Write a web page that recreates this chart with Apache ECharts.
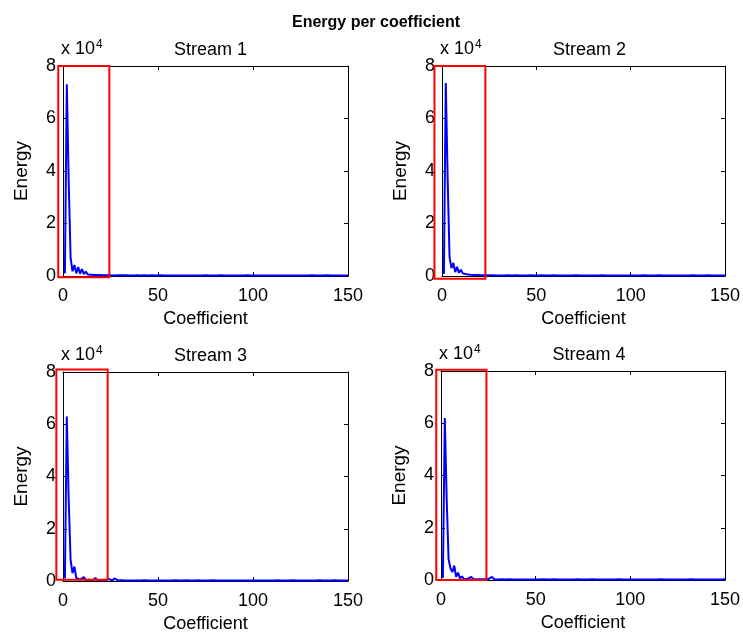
<!DOCTYPE html>
<html>
<head>
<meta charset="utf-8">
<script src="https://cdn.jsdelivr.net/npm/echarts@6/dist/echarts.min.js"></script>
<style>
  html, body { margin: 0; padding: 0; background: #fff; }
  #main { width: 743px; height: 637px; }
</style>
</head>
<body>
<div id="main"></div>
<script>
// energy per coefficient (units of 1e4), coefficient index 1..150
var stream1 = [
  0.10, 7.30, 3.60, 0.70, 0.18, 0.42, 0.10, 0.34, 0.09, 0.26,
  0.07, 0.17, 0.06, 0.11, 0.05, 0.08, 0.04, 0.06, 0.04, 0.05,
  0.03, 0.04, 0.03, 0.04, 0.03, 0.03, 0.02, 0.03, 0.03, 0.02,
  0.03, 0.02, 0.03, 0.02, 0.02, 0.03, 0.02, 0.02, 0.03, 0.02,
  0.02, 0.02, 0.03, 0.02, 0.02, 0.02, 0.03, 0.02, 0.02, 0.02,
  0.03, 0.02, 0.02, 0.02, 0.02, 0.03, 0.02, 0.02, 0.02, 0.02,
  0.02, 0.03, 0.02, 0.02, 0.02, 0.02, 0.02, 0.03, 0.02, 0.02,
  0.02, 0.02, 0.02, 0.02, 0.03, 0.02, 0.02, 0.02, 0.02, 0.02,
  0.02, 0.02, 0.03, 0.02, 0.02, 0.02, 0.02, 0.02, 0.02, 0.03,
  0.02, 0.02, 0.02, 0.02, 0.02, 0.02, 0.03, 0.02, 0.02, 0.02,
  0.02, 0.02, 0.02, 0.02, 0.02, 0.03, 0.02, 0.02, 0.02, 0.02,
  0.02, 0.02, 0.02, 0.03, 0.02, 0.02, 0.02, 0.02, 0.02, 0.02,
  0.02, 0.03, 0.02, 0.02, 0.02, 0.02, 0.02, 0.02, 0.02, 0.02,
  0.03, 0.02, 0.02, 0.02, 0.02, 0.02, 0.02, 0.02, 0.03, 0.02,
  0.02, 0.02, 0.02, 0.02, 0.02, 0.02, 0.02, 0.03, 0.02, 0.02
];
var stream2 = [
  0.08, 7.35, 3.70, 0.72, 0.30, 0.50, 0.15, 0.35, 0.12, 0.24,
  0.10, 0.16, 0.07, 0.10, 0.05, 0.07, 0.04, 0.05, 0.04, 0.04,
  0.03, 0.04, 0.03, 0.03, 0.03, 0.02, 0.03, 0.03, 0.02, 0.03,
  0.02, 0.03, 0.02, 0.02, 0.03, 0.02, 0.02, 0.02, 0.03, 0.02,
  0.02, 0.03, 0.02, 0.02, 0.02, 0.02, 0.03, 0.02, 0.02, 0.02,
  0.02, 0.02, 0.03, 0.02, 0.02, 0.02, 0.02, 0.02, 0.03, 0.02,
  0.02, 0.02, 0.02, 0.03, 0.02, 0.02, 0.02, 0.02, 0.02, 0.02,
  0.03, 0.02, 0.02, 0.02, 0.02, 0.02, 0.02, 0.03, 0.02, 0.02,
  0.02, 0.02, 0.02, 0.02, 0.03, 0.02, 0.02, 0.02, 0.02, 0.02,
  0.02, 0.03, 0.02, 0.02, 0.02, 0.02, 0.02, 0.02, 0.02, 0.03,
  0.02, 0.02, 0.02, 0.02, 0.02, 0.02, 0.03, 0.02, 0.02, 0.02,
  0.02, 0.02, 0.02, 0.02, 0.03, 0.02, 0.02, 0.02, 0.02, 0.02,
  0.02, 0.02, 0.02, 0.03, 0.02, 0.02, 0.02, 0.02, 0.02, 0.02,
  0.02, 0.02, 0.03, 0.02, 0.02, 0.02, 0.02, 0.02, 0.02, 0.02,
  0.03, 0.02, 0.02, 0.02, 0.02, 0.02, 0.02, 0.02, 0.02, 0.02
];
var stream3 = [
  0.10, 6.30, 3.10, 0.80, 0.30, 0.55, 0.12, 0.18, 0.05, 0.04,
  0.15, 0.04, 0.03, 0.05, 0.04, 0.03, 0.12, 0.04, 0.03, 0.03,
  0.03, 0.02, 0.03, 0.08, 0.03, 0.02, 0.10, 0.03, 0.02, 0.02,
  0.03, 0.02, 0.02, 0.03, 0.02, 0.02, 0.02, 0.03, 0.02, 0.02,
  0.02, 0.02, 0.03, 0.02, 0.02, 0.02, 0.02, 0.03, 0.02, 0.02,
  0.02, 0.03, 0.02, 0.02, 0.02, 0.02, 0.02, 0.02, 0.03, 0.02,
  0.02, 0.02, 0.02, 0.02, 0.03, 0.02, 0.02, 0.02, 0.02, 0.02,
  0.03, 0.02, 0.02, 0.02, 0.02, 0.02, 0.02, 0.02, 0.03, 0.02,
  0.02, 0.02, 0.02, 0.03, 0.02, 0.02, 0.02, 0.02, 0.02, 0.02,
  0.02, 0.03, 0.02, 0.02, 0.02, 0.02, 0.02, 0.02, 0.02, 0.03,
  0.02, 0.02, 0.02, 0.02, 0.02, 0.03, 0.02, 0.02, 0.02, 0.02,
  0.02, 0.02, 0.03, 0.02, 0.02, 0.02, 0.02, 0.02, 0.02, 0.02,
  0.03, 0.02, 0.02, 0.02, 0.02, 0.02, 0.02, 0.03, 0.02, 0.02,
  0.02, 0.02, 0.02, 0.02, 0.03, 0.02, 0.02, 0.02, 0.02, 0.02,
  0.02, 0.02, 0.03, 0.02, 0.02, 0.02, 0.02, 0.02, 0.02, 0.02
];
var stream4 = [
  0.08, 6.20, 3.10, 0.80, 0.45, 0.30, 0.55, 0.12, 0.28, 0.06,
  0.14, 0.04, 0.03, 0.04, 0.03, 0.12, 0.04, 0.03, 0.03, 0.02,
  0.03, 0.02, 0.03, 0.02, 0.03, 0.05, 0.12, 0.03, 0.02, 0.02,
  0.02, 0.03, 0.02, 0.02, 0.02, 0.03, 0.02, 0.02, 0.02, 0.02,
  0.03, 0.02, 0.02, 0.02, 0.02, 0.02, 0.03, 0.02, 0.02, 0.02,
  0.02, 0.02, 0.02, 0.03, 0.02, 0.02, 0.02, 0.02, 0.02, 0.03,
  0.02, 0.02, 0.02, 0.02, 0.02, 0.02, 0.03, 0.02, 0.02, 0.02,
  0.02, 0.03, 0.02, 0.02, 0.02, 0.02, 0.02, 0.02, 0.02, 0.03,
  0.02, 0.02, 0.02, 0.02, 0.03, 0.02, 0.02, 0.02, 0.02, 0.02,
  0.02, 0.02, 0.02, 0.03, 0.02, 0.02, 0.02, 0.02, 0.02, 0.02,
  0.03, 0.02, 0.02, 0.02, 0.02, 0.02, 0.02, 0.02, 0.03, 0.02,
  0.02, 0.02, 0.02, 0.02, 0.02, 0.03, 0.02, 0.02, 0.02, 0.02,
  0.02, 0.02, 0.03, 0.02, 0.02, 0.02, 0.02, 0.02, 0.02, 0.02,
  0.02, 0.03, 0.02, 0.02, 0.02, 0.02, 0.02, 0.02, 0.03, 0.02,
  0.02, 0.02, 0.02, 0.02, 0.02, 0.02, 0.02, 0.02, 0.02, 0.03
];
var streams = [stream1, stream2, stream3, stream4];
var streamNames = ['Stream 1', 'Stream 2', 'Stream 3', 'Stream 4'];

// red highlight boxes, in data units [x0, x1] and [y0, y1]
var boxX = [[-2.5, 24.4], [-4, 23], [-3.5, 23.5], [-2.5, 24]];
var boxY = [[-0.05, 8], [-0.1, 8], [0.05, 8.1], [0.0, 8.05]];

var xTicks = { min: 0, max: 150, interval: 50 };
var yTicks = { min: 0, max: 8, interval: 2 };

var FONT = '"Liberation Sans", Arial, sans-serif';

var grids = [
  { left: 63, top: 66, width: 285, height: 210 },
  { left: 442, top: 66, width: 285, height: 210 },
  { left: 63, top: 372, width: 285, height: 209 },
  { left: 441, top: 371, width: 286, height: 209 }
];

var myChart = echarts.init(document.getElementById('main'), null, { renderer: 'canvas' });

var xAxes = [], yAxes = [], series = [], titles = [], graphics = [];

titles.push({
  text: 'Energy per coefficient',
  left: 371, top: 10, textAlign: 'center',
  textStyle: { fontFamily: FONT, fontSize: 16, fontWeight: 'bold', color: '#000' }
});

grids.forEach(function (g, i) {
  var axisLine = { show: true, onZero: false, lineStyle: { color: '#000', width: 1 } };
  var tick = { show: true, inside: true, length: 4, lineStyle: { color: '#000' } };
  var label = { fontFamily: FONT, fontSize: 18, color: '#000' };

  xAxes.push({
    gridIndex: i, type: 'value', position: 'bottom',
    min: xTicks.min, max: xTicks.max, interval: xTicks.interval,
    axisLine: axisLine, axisTick: tick, splitLine: { show: false },
    axisLabel: Object.assign({ margin: 11 }, label),
    name: 'Coefficient', nameLocation: 'middle', nameGap: 34,
    nameTextStyle: label
  });
  xAxes.push({
    gridIndex: i, type: 'value', position: 'top',
    min: xTicks.min, max: xTicks.max, interval: xTicks.interval,
    axisLine: axisLine, axisTick: tick, splitLine: { show: false },
    axisLabel: { show: false }
  });
  yAxes.push({
    gridIndex: i, type: 'value', position: 'left',
    min: yTicks.min, max: yTicks.max, interval: yTicks.interval,
    axisLine: axisLine, axisTick: tick, splitLine: { show: false },
    axisLabel: Object.assign({ margin: 7 }, label),
    name: 'Energy', nameLocation: 'middle', nameGap: 32, nameRotate: 90,
    nameTextStyle: Object.assign({}, label, { fontSize: 19 })
  });
  yAxes.push({
    gridIndex: i, type: 'value', position: 'right',
    min: yTicks.min, max: yTicks.max, interval: yTicks.interval,
    axisLine: axisLine, axisTick: tick, splitLine: { show: false },
    axisLabel: { show: false }
  });

  series.push({
    name: streamNames[i], type: 'line',
    xAxisIndex: 2 * i, yAxisIndex: 2 * i,
    data: streams[i].map(function (v, k) { return [k + 1, v]; }),
    symbol: 'none', silent: true,
    lineStyle: { color: '#0000ff', width: 2 }
  });

  titles.push({
    text: streamNames[i],
    left: g.left + g.width / 2, top: g.top - 30, textAlign: 'center',
    textStyle: { fontFamily: FONT, fontSize: 18, fontWeight: 'normal', color: '#000' }
  });

  graphics.push({
    type: 'text', left: g.left - 2, top: g.top - 27,
    style: {
      text: 'x 10{s|4}',
      font: '18px ' + FONT, fill: '#000',
      rich: { s: { fontSize: 12, fontFamily: FONT, verticalAlign: 'top', padding: [0, 0, 8, 1] } }
    }
  });
});

var option = {
  backgroundColor: '#fff',
  animation: false,
  title: titles,
  grid: grids,
  xAxis: xAxes,
  yAxis: yAxes,
  series: series,
  graphic: graphics
};
myChart.setOption(option);

// red boxes: map data corners through the axis scales (extrapolating past the axis ends)
var boxes = grids.map(function (g, i) {
  var a = myChart.convertToPixel({ gridIndex: i }, [xTicks.min, yTicks.min]);
  var b = myChart.convertToPixel({ gridIndex: i }, [xTicks.max, yTicks.max]);
  function px(x) { return a[0] + (x - xTicks.min) / (xTicks.max - xTicks.min) * (b[0] - a[0]); }
  function py(y) { return a[1] + (y - yTicks.min) / (yTicks.max - yTicks.min) * (b[1] - a[1]); }
  var x0 = px(boxX[i][0]), x1 = px(boxX[i][1]);
  var y0 = py(boxY[i][0]), y1 = py(boxY[i][1]);
  return {
    type: 'rect', z: 100, silent: true,
    shape: { x: x0, y: y1, width: x1 - x0, height: y0 - y1 },
    style: { fill: 'none', stroke: '#ff0000', lineWidth: 2 }
  };
});
myChart.setOption({ graphic: graphics.concat(boxes) });
</script>
</body>
</html>
